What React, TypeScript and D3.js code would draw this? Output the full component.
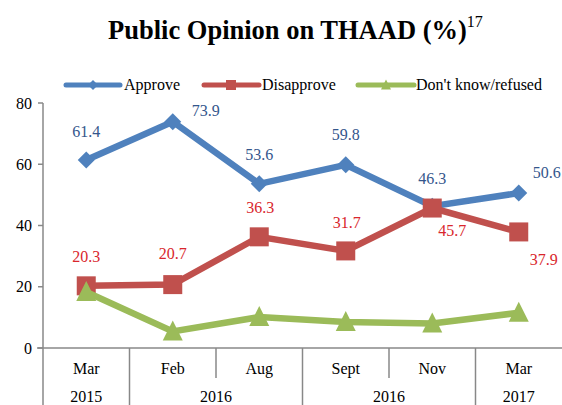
import React from "react";
import * as d3 from "d3";

const categories = ["Mar 2015", "Feb 2016", "Aug 2016", "Sept 2016", "Nov 2016", "Mar 2017"];
const monthLabels = ["Mar", "Feb", "Aug", "Sept", "Nov", "Mar"];
const yearGroups = [
  { label: "2015", from: 0, to: 0 },
  { label: "2016", from: 1, to: 2 },
  { label: "2016", from: 3, to: 4 },
  { label: "2017", from: 5, to: 5 },
];
const approve = [61.4, 73.9, 53.6, 59.8, 46.3, 50.6];
const disapprove = [20.3, 20.7, 36.3, 31.7, 45.7, 37.9];
const dontKnow = [18.3, 5.4, 10.1, 8.5, 8.0, 11.5];
const yTicks = [0, 20, 40, 60, 80];

// label offsets (dx, dy relative to marker)
const approveLabelOffsets: [number, number][] = [[0, -28], [33, -11], [0, -29], [0, -30], [0, -28], [28, -21]];
const disapproveLabelOffsets: [number, number][] = [[0, -29], [0, -31], [1, -29], [1, -28], [20, 22], [25, 28]];

const FONT = "'Liberation Serif', 'Times New Roman', serif";
const BLUE = "#4F81BD";
const RED = "#C0504D";
const GREEN = "#9BBB59";
const BLUE_TXT = "#34568C";
const RED_TXT = "#D9262C";
const AXIS = "#888888";

export default function App() {
  const W = 562, H = 405;
  const x = d3.scaleBand<string>().domain(categories).range([43, 562]).padding(0);
  const y = d3.scaleLinear().domain([0, 80]).range([348, 103]);
  const cx = (i: number) => (x(categories[i]) as number) + x.bandwidth() / 2;
  const line = d3.line<number>().x((_, i) => cx(i)).y((d) => y(d));

  const diamond = (px: number, py: number, r: number) =>
    `M${px},${py - r}L${px + r},${py}L${px},${py + r}L${px - r},${py}Z`;
  const tri = (px: number, py: number, s: number) =>
    `M${px},${py - s * 0.55}L${px + s / 2},${py + s * 0.45}L${px - s / 2},${py + s * 0.45}Z`;

  const bandEdge = (i: number) => x(categories[i]) as number;
  const fullDividers = [0, 1, 3, 5].map(bandEdge);
  const shortDividers = [2, 4].map(bandEdge);

  return (
    <svg width={W} height={H} style={{ position: "absolute", left: 0, top: 0, fontFamily: FONT }}>
      <rect width={W} height={H} fill="#fff" />
      {/* Title */}
      <text x={108} y={39} fontSize={26.5} fontWeight="bold" fill="#000">
        Public Opinion on THAAD (%)
        <tspan fontSize={16} fontWeight="normal" dy={-12}>17</tspan>
      </text>

      {/* Legend */}
      <g>
        <line x1={66} x2={120} y1={85} y2={85} stroke={BLUE} strokeWidth={5} strokeLinecap="round" />
        <path d={diamond(93, 85, 5)} fill={BLUE} />
        <text x={124} y={90} fontSize={16}>Approve</text>
        <line x1={204} x2={259} y1={85} y2={85} stroke={RED} strokeWidth={5} strokeLinecap="round" />
        <rect x={226} y={80} width={10} height={10} fill={RED} />
        <text x={262} y={90} fontSize={16}>Disapprove</text>
        <line x1={358} x2={414} y1={85} y2={85} stroke={GREEN} strokeWidth={5} strokeLinecap="round" />
        <path d={tri(386, 85, 10)} fill={GREEN} />
        <text x={416} y={90} fontSize={16}>Don't know/refused</text>
      </g>

      {/* Y axis */}
      <line x1={43} x2={43} y1={y(80)} y2={348} stroke={AXIS} strokeWidth={1.5} />
      {yTicks.map((t) => (
        <g key={t}>
          <line x1={38} x2={43} y1={y(t)} y2={y(t)} stroke={AXIS} strokeWidth={1.5} />
          <text x={32} y={y(t) + 5.5} textAnchor="end" fontSize={16}>{t}</text>
        </g>
      ))}
      {/* X axis */}
      <line x1={37} x2={562} y1={348} y2={348} stroke={AXIS} strokeWidth={1.5} />
      {fullDividers.map((xx, i) => (
        <line key={"f" + i} x1={xx} x2={xx} y1={348} y2={405} stroke={AXIS} strokeWidth={1.5} />
      ))}
      {shortDividers.map((xx, i) => (
        <line key={"s" + i} x1={xx} x2={xx} y1={348} y2={378} stroke={AXIS} strokeWidth={1.5} />
      ))}
      {monthLabels.map((m, i) => (
        <text key={"m" + i} x={cx(i)} y={374} textAnchor="middle" fontSize={16}>{m}</text>
      ))}
      {yearGroups.map((g, i) => (
        <text key={"y" + i} x={(cx(g.from) + cx(g.to)) / 2} y={402} textAnchor="middle" fontSize={16}>{g.label}</text>
      ))}

      {/* Approve */}
      <path d={line(approve) || ""} fill="none" stroke={BLUE} strokeWidth={6.5} strokeLinejoin="miter" />
      {approve.map((v, i) => (
        <path key={"a" + i} d={diamond(cx(i), y(v), 8.5)} fill={BLUE} />
      ))}
      {/* Disapprove */}
      <path d={line(disapprove) || ""} fill="none" stroke={RED} strokeWidth={6.5} />
      {disapprove.map((v, i) => (
        <rect key={"d" + i} x={cx(i) - 9.5} y={y(v) - 9.5} width={19} height={19} fill={RED} />
      ))}
      {/* Don't know */}
      <path d={line(dontKnow) || ""} fill="none" stroke={GREEN} strokeWidth={6.5} />
      {dontKnow.map((v, i) => (
        <path key={"g" + i} d={tri(cx(i), y(v), 20)} fill={GREEN} />
      ))}

      {/* Data labels */}
      {approve.map((v, i) => (
        <text key={"al" + i} x={cx(i) + approveLabelOffsets[i][0]} y={y(v) + approveLabelOffsets[i][1] + 5.5}
          textAnchor="middle" fontSize={16} fill={BLUE_TXT}>{v.toFixed(1)}</text>
      ))}
      {disapprove.map((v, i) => (
        <text key={"dl" + i} x={cx(i) + disapproveLabelOffsets[i][0]} y={y(v) + disapproveLabelOffsets[i][1] + 5.5}
          textAnchor="middle" fontSize={16} fill={RED_TXT}>{v.toFixed(1)}</text>
      ))}
    </svg>
  );
}
